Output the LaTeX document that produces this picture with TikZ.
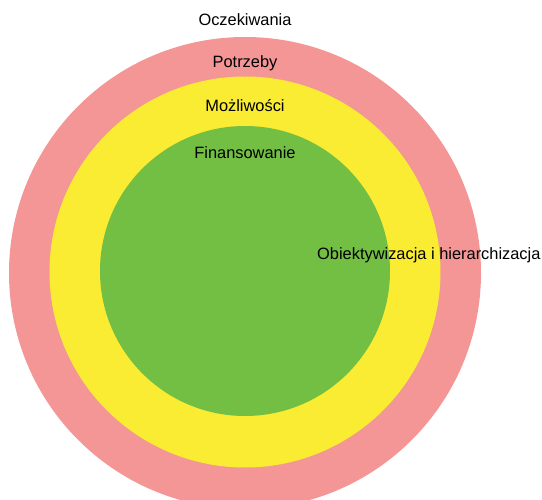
\documentclass[tikz,border=0pt]{standalone}
\usepackage{fontspec}
\setmainfont{Liberation Sans}
\definecolor{ringred}{RGB}{244,150,150}
\definecolor{ringyellow}{RGB}{249,236,50}
\definecolor{ringgreen}{RGB}{115,191,68}
\begin{document}
\begin{tikzpicture}[x=1pt,y=-1pt,
  ring/.style={circle,inner sep=0pt,draw=none},
  lbl/.style={font=\fontsize{16.4}{19}\selectfont,inner sep=0pt,anchor=base,text=black}]
\useasboundingbox (0,0) rectangle (542,500);
\begin{scope}
\clip (0,0) rectangle (542,500);
\node[ring,fill=ringred,minimum size=472pt] (outer) at (245,273) {};
\node[ring,fill=ringyellow,minimum size=391pt] (middle) at (245,272) {};
\node[ring,fill=ringgreen,minimum size=290pt] (inner) at (245,271) {};
\end{scope}
\node[lbl] (ocz) at (245,26) {Oczekiwania};
\node[lbl] (pot) at (245,68) {Potrzeby};
\node[lbl] (moz) at (245,112) {Możliwości};
\node[lbl] (fin) at (245,159) {Finansowanie};
\node[lbl,anchor=base west] (obi) at (317,260) {Obiektywizacja i hierarchizacja};
\end{tikzpicture}
\end{document}
